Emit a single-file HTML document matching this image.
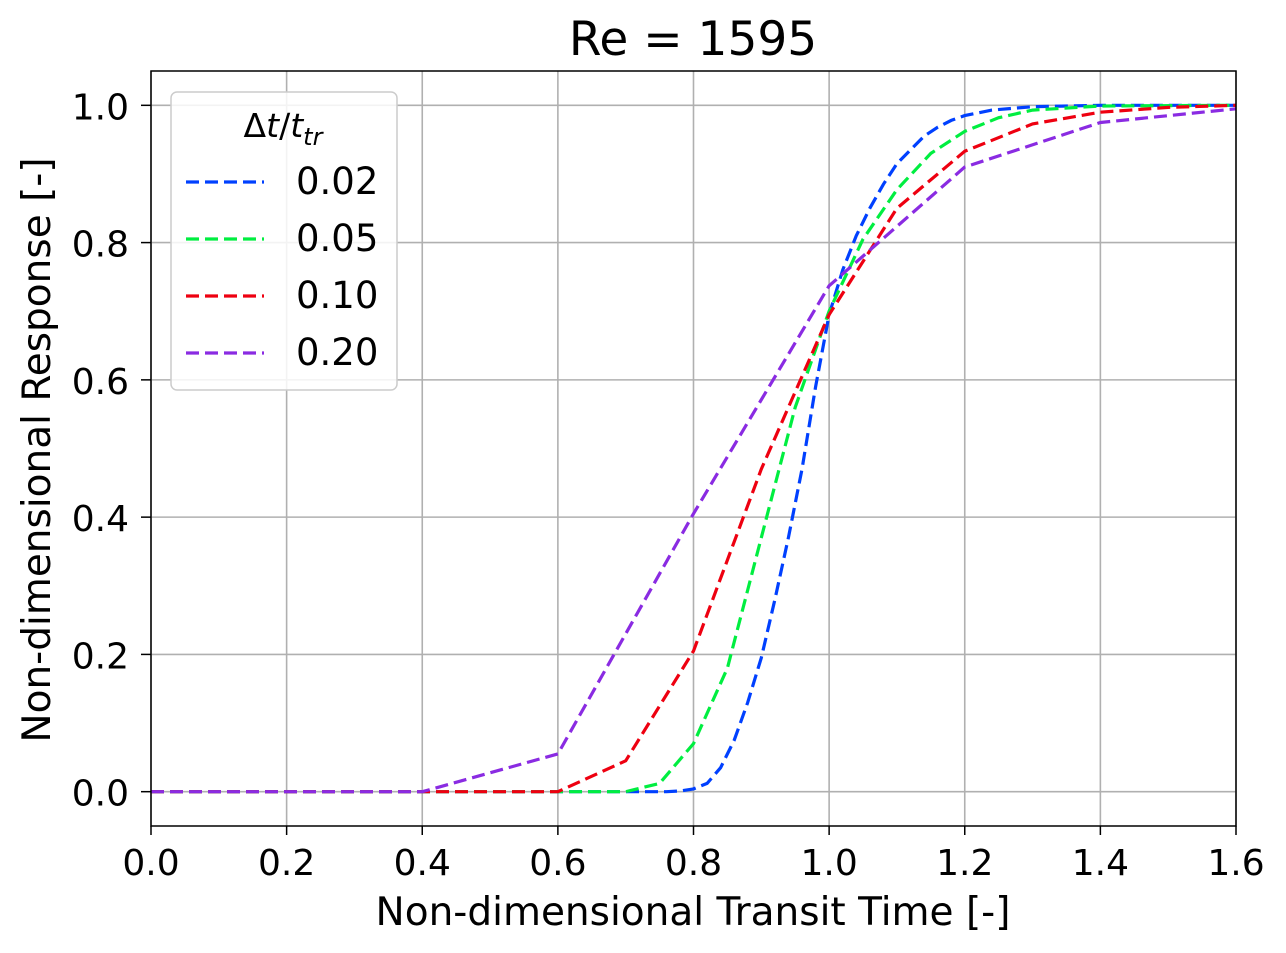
<!DOCTYPE html>
<html><head><meta charset="utf-8"><style>
body{margin:0;background:#fff;}
svg{display:block;font-family:"DejaVu Sans","Liberation Sans",sans-serif;}
</style></head><body>
<svg id="chart" width="1286" height="953">
<rect width="1286" height="953" fill="#fff"/>
<g id="grid"></g>
<g id="series"></g>
<rect x="151" y="71" width="1085" height="755" fill="none" stroke="#000" stroke-width="1.5"/>
<g id="ticks"></g>
<text x="693" y="55" font-size="47" text-anchor="middle">Re = 1595</text>
<text x="693" y="925" font-size="39" text-anchor="middle">Non-dimensional Transit Time [-]</text>
<text transform="translate(50,450) rotate(-90)" font-size="39" text-anchor="middle">Non-dimensional Response [-]</text>
<g id="legend">
<rect x="171" y="92" width="226" height="298" rx="6" fill="#fff" fill-opacity="0.85" stroke="#ccc" stroke-width="1.5"/>
<text x="283" y="137" font-size="33" text-anchor="middle">Δ<tspan font-style="italic">t</tspan>/<tspan font-style="italic">t</tspan><tspan font-style="italic" font-size="24" dy="8">tr</tspan></text>
</g>
</svg>
<script>
const xTicks=[0.0,0.2,0.4,0.6,0.8,1.0,1.2,1.4,1.6];
const yTicks=[0.0,0.2,0.4,0.6,0.8,1.0];
const seriesLabels=["0.02","0.05","0.10","0.20"];
const seriesColors=["#0040ff","#00ee40","#ee0010","#8a2be2"];
const x002=[0,0.2,0.4,0.6,0.76,0.78,0.80,0.82,0.84,0.86,0.88,0.90,0.92,0.94,0.96,0.98,1.00,1.02,1.04,1.06,1.08,1.10,1.12,1.14,1.16,1.18,1.20,1.24,1.30,1.40,1.60];
const y002=[0,0,0,0,0,0.001,0.004,0.012,0.035,0.075,0.13,0.195,0.28,0.37,0.47,0.59,0.695,0.76,0.81,0.85,0.885,0.915,0.935,0.955,0.968,0.978,0.985,0.993,0.998,1.0,1.0];
const x005=[0,0.2,0.4,0.6,0.7,0.75,0.8,0.85,0.9,0.95,1.0,1.05,1.1,1.15,1.2,1.25,1.3,1.4,1.6];
const y005=[0,0,0,0,0,0.012,0.07,0.18,0.37,0.56,0.70,0.805,0.877,0.93,0.962,0.982,0.993,0.999,1.0];
const x010=[0,0.2,0.4,0.6,0.7,0.8,0.9,1.0,1.1,1.2,1.3,1.4,1.5,1.6];
const y010=[0,0,0,0,0.045,0.205,0.47,0.695,0.85,0.933,0.973,0.99,0.997,1.0];
const x020=[0,0.2,0.4,0.6,0.8,1.0,1.2,1.4,1.6];
const y020=[0,0,0,0.055,0.405,0.737,0.91,0.975,0.995];
const xs=[x002,x005,x010,x020], ys=[y002,y005,y010,y020];
const L=151,R=1236,T=71,B=826;
const sx=v=>L+(v-0)/(1.6-0)*(R-L);
const sy=v=>B-(v-(-0.05))/(1.1)*(B-T);
const NS="http://www.w3.org/2000/svg";
const grid=document.getElementById('grid'),ticks=document.getElementById('ticks'),ser=document.getElementById('series'),leg=document.getElementById('legend');
function mk(t,a,p){const e=document.createElementNS(NS,t);for(const k in a)e.setAttribute(k,a[k]);p.appendChild(e);return e;}
xTicks.forEach(v=>{const x=sx(v);
const g=mk('line',{x1:x,x2:x,y1:T,y2:B,stroke:'#b0b0b0','stroke-width':1.6},grid);


mk('line',{x1:x,x2:x,y1:B,y2:B+9,stroke:'#000','stroke-width':1.5},ticks);
const t=mk('text',{x:x,y:875,'font-size':36,'text-anchor':'middle'},ticks);t.textContent=v.toFixed(1);

});
yTicks.forEach(v=>{const y=sy(v);
const g=mk('line',{x1:L,x2:R,y1:y,y2:y,stroke:'#b0b0b0','stroke-width':1.6},grid);


mk('line',{x1:L-10,x2:L,y1:y,y2:y,stroke:'#000','stroke-width':1.5},ticks);
const t=mk('text',{x:L-22,y:y+14,'font-size':36,'text-anchor':'end'},ticks);t.textContent=v.toFixed(1);

});
xs.forEach((xa,i)=>{const d=xa.map((x,j)=>(j?'L':'M')+sx(x).toFixed(1)+','+sy(ys[i][j]).toFixed(1)).join(' ');
const p=mk('path',{d:d,fill:'none',stroke:seriesColors[i],'stroke-width':3.2,'stroke-dasharray':'13,6'},ser);


const ly=182+i*57;
const ll=mk('line',{x1:186,x2:264,y1:ly,y2:ly,stroke:seriesColors[i],'stroke-width':3.2,'stroke-dasharray':'13,6'},leg);


const lt=mk('text',{x:296,y:ly+12,'font-size':37},leg);lt.textContent=seriesLabels[i];

});
</script>
</body></html>
